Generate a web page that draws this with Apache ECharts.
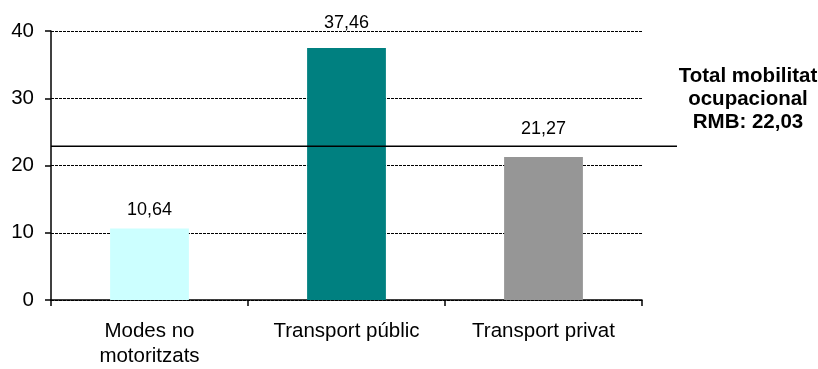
<!DOCTYPE html>
<html>
<head>
<meta charset="utf-8">
<script src="https://cdn.jsdelivr.net/npm/echarts@6/dist/echarts.min.js"></script>
<style>
html,body{margin:0;padding:0;background:#fff;}
#chart{width:818px;height:369px;}
</style>
</head>
<body>
<div id="chart"></div>
<script>
const categories = ['Modes no\nmotoritzats', 'Transport públic', 'Transport privat'];
const values = [10.64, 37.46, 21.27];
const valueLabels = ['10,64', '37,46', '21,27'];
const barColors = ['#CCFFFF', '#008080', '#969696'];
const labelDistances = [9, 16, 19];
const yTicks = [0, 10, 20, 30, 40];
const refLineValue = 22.86;
const refText = 'Total mobilitat\nocupacional\nRMB: 22,03';

const font = 'Arial, "Liberation Sans", sans-serif';
const chart = echarts.init(document.getElementById('chart'), null, {renderer: 'canvas'});

const option = {
  animation: false,
  backgroundColor: '#ffffff',
  title: {
    text: refText,
    left: 743,
    top: 60,
    textAlign: 'center',
    textStyle: {
      fontFamily: font, fontWeight: 'bold', fontSize: 20.5, color: '#000',
      lineHeight: 23, align: 'center'
    }
  },
  grid: {left: 51, right: 176, top: 31, bottom: 68, containLabel: false},
  xAxis: {
    type: 'category',
    data: categories,
    boundaryGap: true,
    axisLine: {show: true, lineStyle: {color: '#000', width: 1.5}},
    axisTick: {show: true, length: 6, alignWithLabel: false, lineStyle: {color: '#000', width: 1.5}},
    axisLabel: {fontFamily: font, fontSize: 20.5, color: '#000', margin: 19, lineHeight: 25, interval: 0}
  },
  yAxis: {
    type: 'value',
    min: yTicks[0],
    max: yTicks[yTicks.length - 1],
    interval: 10,
    axisLine: {show: true, lineStyle: {color: '#000', width: 1.5}},
    axisTick: {show: true, length: 6, lineStyle: {color: '#000', width: 1.5}},
    axisLabel: {fontFamily: font, fontSize: 20.5, color: '#000', margin: 17},
    splitLine: {show: true, lineStyle: {color: '#000', width: 1, type: [3, 1]}}
  },
  series: [{
    type: 'bar',
    barWidth: '40%',
    data: values.map((v, i) => ({
      value: v,
      itemStyle: {color: barColors[i]},
      label: {distance: labelDistances[i]}
    })),
    label: {
      show: true,
      position: 'top',
      fontFamily: font,
      fontSize: 18,
      color: '#000',
      formatter: p => valueLabels[p.dataIndex]
    }
  }]
};
chart.setOption(option);

const yPix = chart.convertToPixel({yAxisIndex: 0}, refLineValue);
chart.setOption({
  graphic: [{
    type: 'line',
    shape: {x1: 51, y1: yPix, x2: 677, y2: yPix},
    style: {stroke: '#000', lineWidth: 1.5},
    z: 10
  }]
});
</script>
</body>
</html>
